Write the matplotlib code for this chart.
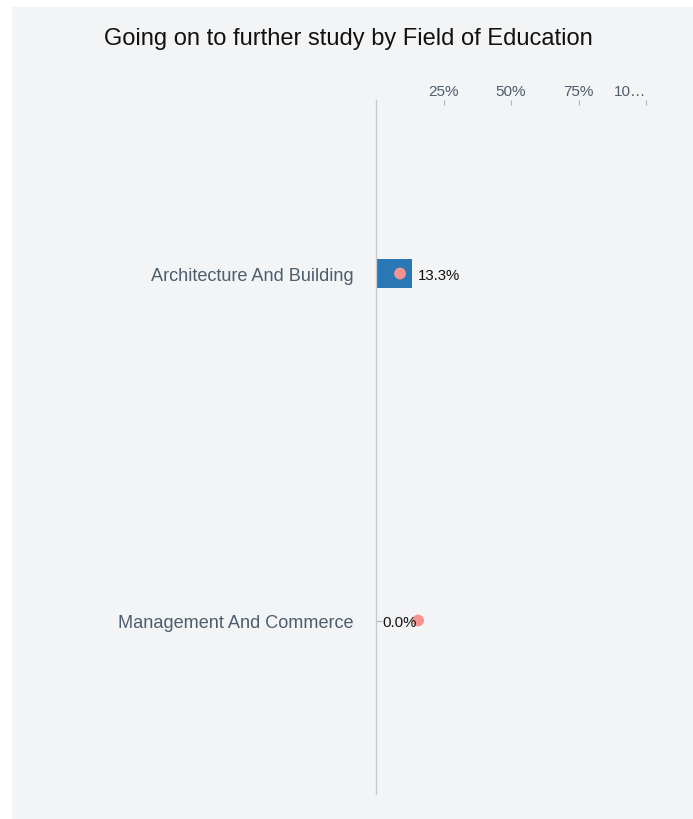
import matplotlib.pyplot as plt
from matplotlib.patches import Rectangle

# Data
fields = ["Architecture And Building", "Management And Commerce"]
further_study = [13.3, 0.0]
benchmark = [8.9, 15.6]
tick_values = [25, 50, 75, 100]
tick_labels = ["25%", "50%", "75%", "10\u2026"]

plt.rcParams['font.family'] = ['Liberation Sans', 'DejaVu Sans']

fig = plt.figure(figsize=(6.93, 8.2), dpi=100)
fig.patch.set_facecolor('white')

# gray panel behind the chart
fig.patches.append(Rectangle((12 / 693, 0), 1 - 12 / 693, 1 - 8 / 820,
                             transform=fig.transFigure, facecolor='#f3f4f6',
                             edgecolor='none', zorder=-10))

fig.text(348 / 693, 1 - 37 / 820, "Going on to further study by Field of Education",
         ha='center', va='center_baseline', fontsize=17, color='#111111')

ax = fig.add_axes([376 / 693, 1 - 795 / 820, (646 - 376) / 693, (795 - 101) / 820])
ax.patch.set_alpha(0)

y = list(range(len(fields)))
ax.barh(y, further_study, height=0.085, color='#2a77b5', zorder=2)
ax.scatter(benchmark, y, s=72, color='#f4938f', zorder=3, edgecolors='none')

for yi, v in zip(y, further_study):
    ax.annotate(f"{v:.1f}%", (v, yi), xytext=(4.5, 0), textcoords='offset points',
                ha='left', va='center_baseline', fontsize=10.8, color='#111111', zorder=4)

ax.set_xlim(0, 100)
ax.set_ylim(len(fields) - 0.5, -0.5)

ax.xaxis.tick_top()
ax.set_xticks(tick_values)
ax.set_xticklabels(tick_labels)
ax.tick_params(axis='x', direction='in', length=3.5, width=0.8, color='#aab2ba',
               labelsize=11, labelcolor='#4e5d6c', pad=1.5)
last = ax.get_xticklabels()[-1]
last.set_ha('right')

ax.set_yticks(y)
ax.set_yticklabels(fields, va='center_baseline')
ax.tick_params(axis='y', direction='in', length=4, width=0.8, color='#aab2ba',
               labelsize=13.1, labelcolor='#4e5d6c', pad=16)

for s in ['top', 'right', 'bottom']:
    ax.spines[s].set_visible(False)
ax.spines['left'].set_color('#c8cacc')
ax.spines['left'].set_linewidth(1)

fig.savefig('out.png', dpi=100)
